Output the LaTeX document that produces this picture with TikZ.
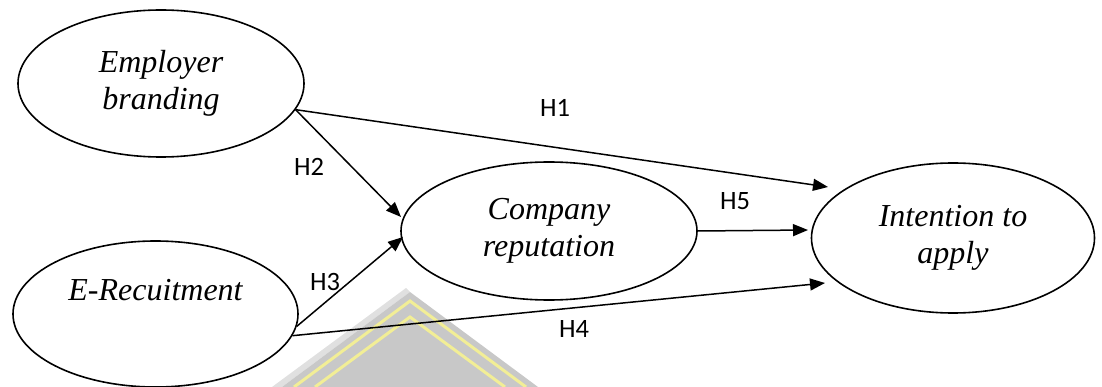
\documentclass[tikz,border=0pt]{standalone}
\usepackage{fontspec}
\setmainfont{Liberation Serif}
\newfontfamily\labfont{Carlito}
\usetikzlibrary{shapes.geometric,arrows.meta}
\definecolor{wmgray}{RGB}{200,200,200}
\definecolor{wmlight}{RGB}{224,224,224}
\definecolor{wmyellow}{RGB}{242,238,150}
\begin{document}
\begin{tikzpicture}[x=1pt,y=-1pt,
  construct/.style={draw, ellipse, line width=1.6pt, inner sep=0pt, align=center,
    font=\fontsize{32}{37}\selectfont\itshape},
  link/.style={line width=1.5pt, -{Triangle[length=15pt,width=12pt]}},
  hyp/.style={font=\labfont\fontsize{26.5}{30}\selectfont, inner sep=0pt}
]
\useasboundingbox (0,0) rectangle (1102,387);

% faint emblem in the background
\begin{scope}
  \clip (0,0) rectangle (1102,387);
  \fill[wmlight] (406,288) -- (272,387) -- (282,387) -- (410,292) -- cycle;
  \fill[wmgray] (410,292) -- (282,387) -- (538,387) -- cycle;
  \draw[wmyellow, line width=3pt] (294,387) -- (410,301) -- (526,387);
  \draw[wmyellow, line width=3pt] (315,387) -- (410,317) -- (505,387);
\end{scope}

% constructs
\node[construct, minimum width=286pt, minimum height=147pt] (eb) at (161,83.5) {Employer\\branding};
\node[construct, minimum width=285pt, minimum height=146pt] (er) at (155.5,314) {E-Recuitment\\\strut};
\node[construct, minimum width=296pt, minimum height=138pt] (cr) at (549,231) {Company\\reputation};
\node[construct, minimum width=283pt, minimum height=150pt] (ia) at (953,238) {Intention to\\apply};

% arrow tips stop just short of the targets
\coordinate (t1) at (828,187);
\coordinate (t2) at (401,217);
\coordinate (t3) at (403,237);
\coordinate (t4) at (825,283);
\coordinate (t5) at (808,230);

% hypothesised paths
\draw[link] (eb.-11.6) -- (t1);
\draw[link] (eb.-11.6) -- (t2);
\draw[link] (er.-5.3) -- (t3);
\draw[link] (er.-9.1) -- (t4);
\draw[link] (cr.east) -- (t5);

% path labels
\node[hyp] (h1) at (555,108) {H1};
\node[hyp] (h2) at (309,167) {H2};
\node[hyp] (h3) at (325,281.5) {H3};
\node[hyp] (h4) at (574,329) {H4};
\node[hyp] (h5) at (735,201.5) {H5};
\end{tikzpicture}
\end{document}
